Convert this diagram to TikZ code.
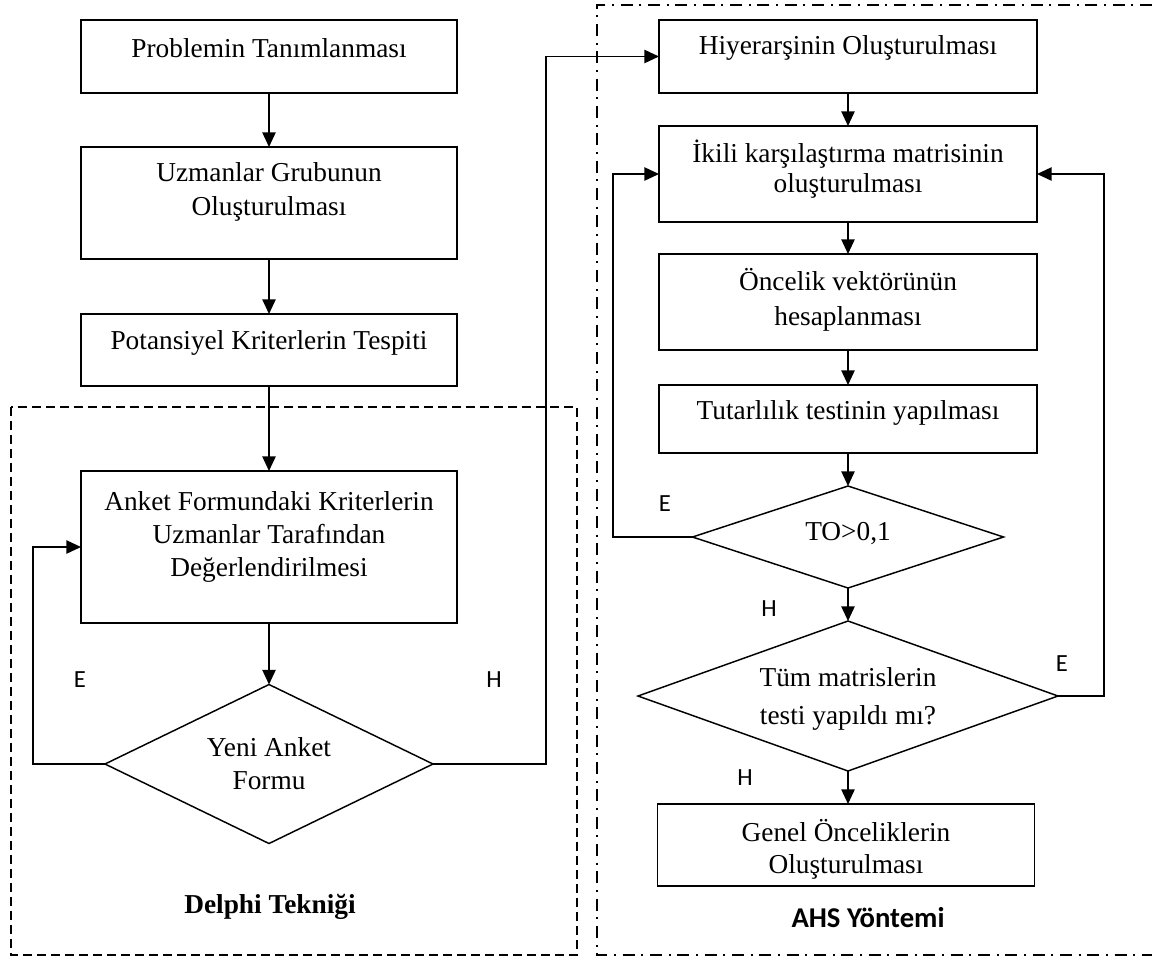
\documentclass[tikz,border=0pt]{standalone}
\usepackage{fontspec}
\setmainfont{Liberation Serif}
\newfontfamily\calib{Carlito}
\usetikzlibrary{shapes.geometric,arrows.meta}
\begin{document}
\begin{tikzpicture}[x=0.75pt,y=-0.75pt,
  box/.style={draw,line width=1.1pt,rectangle,inner sep=0pt,outer sep=0pt},
  dmd/.style={draw,line width=1.1pt,diamond,inner sep=0pt,outer sep=0pt},
  txt/.style={align=center,inner sep=0pt,font=\fontsize{20.5}{25}\selectfont},
  lab/.style={inner sep=0pt,font=\calib\fontsize{18.5}{20}\selectfont},
  arr/.style={line width=1.1pt,-{Triangle[length=11pt,width=10pt]}},
  delphiframe/.style={line width=1pt,dash pattern=on 7pt off 3.5pt},
  ahsframe/.style={line width=1pt,dash pattern=on 9pt off 5pt on 1.5pt off 5pt}]
\useasboundingbox (0,0) rectangle (1152,958);
% frames
\draw[delphiframe] (11,407) rectangle (577,955);
\draw[ahsframe] (1152,5) -- (597,5) -- (597,955) -- (1152,955);
% left column
\node[box,minimum width=282pt,minimum height=54.75pt] (b1) at (269,56.5) {};
\node[txt] (t1) at (269,48) {Problemin Tanımlanması};
\node[box,minimum width=282pt,minimum height=84pt] (b2) at (269,203) {};
\node[txt,font=\fontsize{20.5}{25.5}\selectfont] (t2) at (269,192) {Uzmanlar Grubunun\\Oluşturulması};
\node[box,minimum width=282pt,minimum height=54pt] (b3) at (269,350) {};
\node[txt] (t3) at (269,343) {Potansiyel Kriterlerin Tespiti};
\node[box,minimum width=282pt,minimum height=114pt] (b4) at (269,547) {};
\node[txt,font=\fontsize{20.5}{24.75}\selectfont] (t4) at (269,537) {Anket Formundaki Kriterlerin\\Uzmanlar Tarafından\\Değerlendirilmesi};
\node[dmd,minimum width=246pt,minimum height=119.25pt] (d1) at (269,764) {};
\node[txt,font=\fontsize{20.5}{24.75}\selectfont] (t5) at (269,764) {Yeni Anket\\Formu};
% right column
\node[box,minimum width=283.5pt,minimum height=54.75pt] (b5) at (848,56.5) {};
\node[txt] (t6) at (848,48) {Hiyerarşinin Oluşturulması};
\node[box,minimum width=283.5pt,minimum height=72pt] (b6) at (848,174) {};
\node[txt,font=\fontsize{20.5}{22}\selectfont] (t7) at (848,169) {İkili karşılaştırma matrisinin\\oluşturulması};
\node[box,minimum width=283.5pt,minimum height=72pt] (b7) at (848,302) {};
\node[txt,font=\fontsize{20.5}{26}\selectfont] (t8) at (848,300) {Öncelik vektörünün\\hesaplanması};
\node[box,minimum width=283.5pt,minimum height=51pt] (b8) at (848,419) {};
\node[txt] (t9) at (848,413) {Tutarlılık testinin yapılması};
\node[dmd,minimum width=233.25pt,minimum height=76.5pt] (d2) at (848,537) {};
\node[txt] (t10) at (848,533) {TO>0,1};
\node[dmd,minimum width=315pt,minimum height=112.5pt] (d3) at (848,696) {};
\node[txt,font=\fontsize{20.5}{28.5}\selectfont] (t11) at (848,699) {Tüm matrislerin\\testi yapıldı mı?};
\node[box,minimum width=282.75pt,minimum height=61.5pt] (b9) at (846,845) {};
\node[txt,font=\fontsize{20.5}{24}\selectfont] (t12) at (846,849) {Genel Önceliklerin\\Oluşturulması};
% labels
\node[lab] (e1) at (80,680) {E};
\node[lab] (h1) at (494,680) {H};
\node[lab] (e2) at (665,504) {E};
\node[lab] (h2) at (769,609) {H};
\node[lab] (e3) at (1062,664) {E};
\node[lab] (h3) at (745,778) {H};
\node[inner sep=0pt,font=\bfseries\fontsize{20.5}{24}\selectfont] (dt) at (270,907) {Delphi Tekniği};
\node[inner sep=0pt,font=\calib\bfseries\fontsize{21.5}{24}\selectfont] (at) at (868,918) {AHS Yöntemi};
% connectors
\draw[arr] (b1) -- (b2);
\draw[arr] (b2) -- (b3);
\draw[arr] (b3) -- (b4);
\draw[arr] (b4) -- (d1);
\coordinate (eL) at (33,764);
\coordinate (hR) at (546,764);
\draw[arr] (d1.west) -- (eL) |- (b4.west);
\draw[arr] (d1.east) -- (hR) |- (b5.west);
\draw[arr] (b5) -- (b6);
\draw[arr] (b6) -- (b7);
\draw[arr] (b7) -- (b8);
\draw[arr] (b8) -- (d2);
\draw[arr] (d2) -- (d3);
\draw[arr] (d3.south) -- (d3.south |- b9.north);
\coordinate (eL2) at (613,537);
\coordinate (eR3) at (1104,696);
\draw[arr] (d2.west) -- (eL2) |- (b6.west);
\draw[arr] (d3.east) -- (eR3) |- (b6.east);
\end{tikzpicture}
\end{document}
